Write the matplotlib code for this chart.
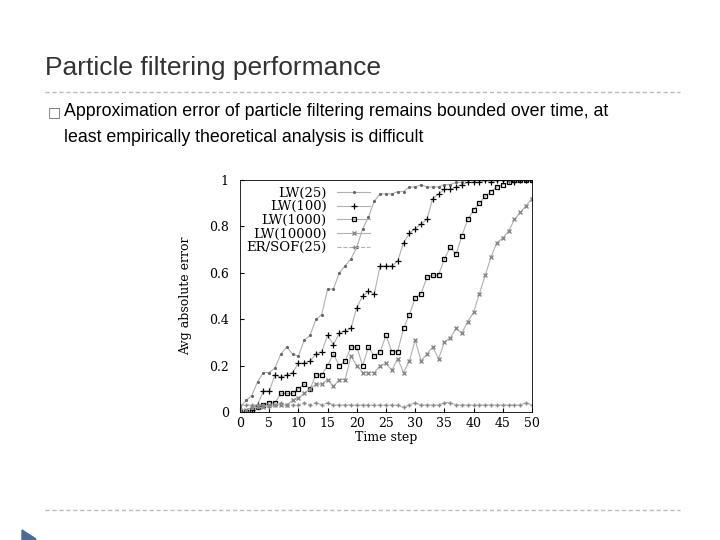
import matplotlib
matplotlib.use("Agg")
import matplotlib.pyplot as plt
import numpy as np

x = list(range(51))
lw25 = [0.02,0.05,0.07,0.13,0.17,0.17,0.19,0.25,0.28,0.25,0.24,0.31,0.33,0.40,0.42,0.53,0.53,0.60,0.63,0.66,0.71,0.79,0.84,0.91,0.94,0.94,0.94,0.95,0.95,0.97,0.97,0.98,0.97,0.97,0.97,0.98,0.98,0.99,0.99,1.0,1.0,1.0,1.0,1.0,1.0,1.0,1.0,1.0,1.0,1.0,1.0]
lw100 = [0.0,0.0,0.01,0.03,0.09,0.09,0.16,0.15,0.16,0.17,0.21,0.21,0.22,0.25,0.26,0.33,0.29,0.34,0.35,0.36,0.45,0.50,0.52,0.51,0.63,0.63,0.63,0.65,0.73,0.77,0.79,0.81,0.83,0.92,0.94,0.96,0.96,0.97,0.98,0.99,0.99,0.99,1.0,0.99,1.0,1.0,1.0,0.99,1.0,1.0,1.0]
lw1000 = [0.0,0.0,0.01,0.02,0.03,0.04,0.04,0.08,0.08,0.08,0.10,0.12,0.10,0.16,0.16,0.20,0.25,0.20,0.22,0.28,0.28,0.20,0.28,0.24,0.26,0.33,0.26,0.26,0.36,0.42,0.49,0.51,0.58,0.59,0.59,0.66,0.71,0.68,0.76,0.83,0.87,0.90,0.93,0.95,0.97,0.98,0.99,1.0,1.0,1.0,1.0]
lw10000 = [0.01,0.01,0.02,0.02,0.02,0.03,0.03,0.03,0.03,0.05,0.06,0.08,0.10,0.12,0.12,0.14,0.11,0.14,0.14,0.24,0.20,0.17,0.17,0.17,0.20,0.21,0.18,0.23,0.17,0.22,0.31,0.22,0.25,0.28,0.23,0.30,0.32,0.36,0.34,0.39,0.43,0.51,0.59,0.67,0.73,0.75,0.78,0.83,0.86,0.89,0.92]
ersof = [0.03,0.03,0.03,0.03,0.03,0.02,0.03,0.04,0.03,0.03,0.03,0.04,0.03,0.04,0.03,0.04,0.03,0.03,0.03,0.03,0.03,0.03,0.03,0.03,0.03,0.03,0.03,0.03,0.02,0.03,0.04,0.03,0.03,0.03,0.03,0.04,0.04,0.03,0.03,0.03,0.03,0.03,0.03,0.03,0.03,0.03,0.03,0.03,0.03,0.04,0.03]

fig = plt.figure(figsize=(7.2, 5.4), dpi=100)
fig.text(45/720, 1-68/540, "Particle filtering performance", fontsize=19, color="#333333",
         va="center", family="Liberation Sans")
for yy in (92, 510):
    fig.add_artist(plt.Line2D([45/720, 680/720], [1-yy/540]*2, color="#bbbbbb", lw=1, ls=(0, (3, 2))))
fig.text(48/720, 1-112/540, "\u25a1", fontsize=10, color="#666666", va="center", family="DejaVu Sans")
fig.text(64/720, 1-112/540, "Approximation error of particle filtering remains bounded over time, at",
         fontsize=12.8, va="center", family="Liberation Sans")
fig.text(64/720, 1-137/540, "least empirically theoretical analysis is difficult",
         fontsize=12.8, va="center", family="Liberation Sans")
fig.add_artist(plt.Polygon([[22/720, 1-530/540], [22/720, 1-548/540], [36/720, 1-539/540]],
                           closed=True, color="#4a6a9a"))

ax = fig.add_axes([240/720, 1-412/540, 292/720, 232/540])
g = "#b0b0b0"
ax.plot(x, lw25, color=g, lw=0.8, marker='.', ms=2.5, mec="#666666", label="LW(25)")
ax.plot(x, lw100, color=g, lw=0.8, marker='+', ms=4.5, mec="black", mew=0.9, label="LW(100)")
ax.plot(x, lw1000, color=g, lw=0.8, marker='s', ms=3, mfc="none", mec="black", mew=0.9, label="LW(1000)")
ax.plot(x, lw10000, color=g, lw=0.8, marker='x', ms=2.5, mec="#888888", label="LW(10000)")
ax.plot(x, ersof, color=g, lw=0.8, ls='--', marker='+', ms=2.5, mec="#888888", label="ER/SOF(25)")
ax.set_xlim(0, 50)
ax.set_ylim(0, 1)
ax.set_xticks(range(0, 51, 5))
ax.set_yticks([0, 0.2, 0.4, 0.6, 0.8, 1])
ax.set_yticklabels(["0", "0.2", "0.4", "0.6", "0.8", "1"])
ax.tick_params(direction="in", labelsize=9, length=3)
ax.tick_params(axis="y", pad=8)
for t in ax.get_xticklabels() + ax.get_yticklabels():
    t.set_family("DejaVu Serif")
for s in ax.spines.values():
    s.set_linewidth(0.6)
ax.set_xlabel("Time step", family="DejaVu Serif", fontsize=9, labelpad=1)
ax.set_ylabel("Avg absolute error", family="DejaVu Serif", fontsize=9, labelpad=12)
leg = ax.legend(loc="upper left", frameon=False, markerfirst=False,
                handlelength=2.5, borderaxespad=0.1, labelspacing=0.05,
                prop={"family": "DejaVu Serif", "size": 9.5})
fig.savefig("out.png", dpi=100)
